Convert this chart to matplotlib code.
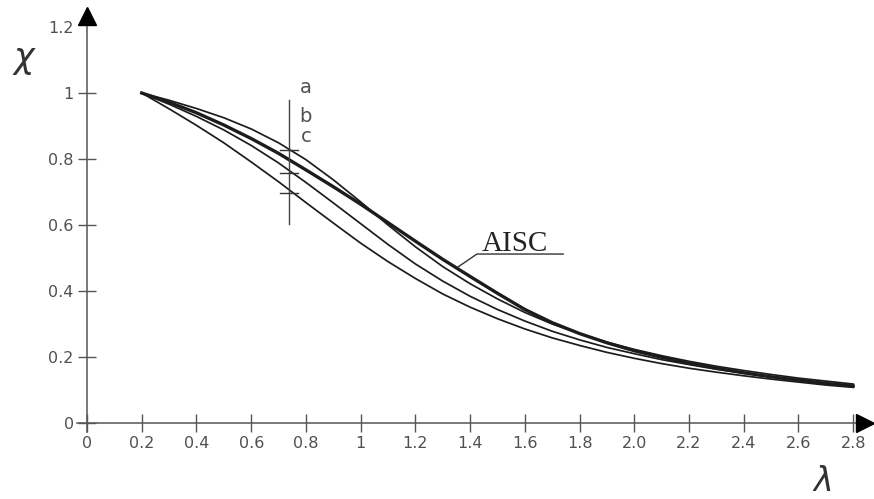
import numpy as np
import matplotlib.pyplot as plt

lam = [0.2, 0.3, 0.4, 0.5, 0.6, 0.7, 0.8, 0.9, 1.0, 1.1, 1.2, 1.3, 1.4, 1.5,
       1.6, 1.7, 1.8, 1.9, 2.0, 2.1, 2.2, 2.3, 2.4, 2.5, 2.6, 2.7, 2.8]

## buckling curves a, b, c and the AISC curve
chi_a = [1.000, 0.978, 0.953, 0.925, 0.891, 0.849, 0.798, 0.737, 0.670, 0.600,
         0.534, 0.474, 0.422, 0.376, 0.335, 0.300, 0.271, 0.245, 0.223, 0.204,
         0.187, 0.172, 0.159, 0.147, 0.136, 0.127, 0.118]
chi_b = [1.000, 0.966, 0.929, 0.888, 0.841, 0.788, 0.729, 0.667, 0.604, 0.541,
         0.482, 0.430, 0.384, 0.344, 0.309, 0.278, 0.252, 0.229, 0.210, 0.192,
         0.177, 0.163, 0.151, 0.140, 0.130, 0.121, 0.113]
chi_c = [1.000, 0.952, 0.902, 0.849, 0.791, 0.731, 0.668, 0.606, 0.545, 0.489,
         0.438, 0.391, 0.351, 0.316, 0.285, 0.258, 0.235, 0.214, 0.196, 0.180,
         0.166, 0.154, 0.143, 0.133, 0.124, 0.115, 0.108]
chi_aisc = [1.000, 0.972, 0.940, 0.903, 0.862, 0.817, 0.767, 0.716, 0.663, 0.607,
            0.551, 0.496, 0.444, 0.393, 0.344, 0.304, 0.271, 0.243, 0.219, 0.199,
            0.181, 0.166, 0.152, 0.140, 0.130, 0.120, 0.112]

## marker line with the curve labels
marker_lam = 0.738
marker_chi = [0.827, 0.758, 0.698]
curve_names = ["a", "b", "c"]

x_ticks = [0, 0.2, 0.4, 0.6, 0.8, 1.0, 1.2, 1.4, 1.6, 1.8, 2.0, 2.2, 2.4, 2.6, 2.8]
x_labels = ["0", "0.2", "0.4", "0.6", "0.8", "1", "1.2", "1.4", "1.6", "1.8",
            "2.0", "2.2", "2.4", "2.6", "2.8"]
y_ticks = [0, 0.2, 0.4, 0.6, 0.8, 1.0, 1.2]
y_labels = ["0", "0.2", "0.4", "0.6", "0.8", "1", "1.2"]

axis_col = "#555555"
line_col = "#1c1c1c"
text_col = "#505050"

fig = plt.figure(figsize=(8.74, 4.99), dpi=100)
ax = fig.add_axes([0, 0, 1, 1])
ax.set_xlim(-0.318, 2.876)
ax.set_ylim(-0.2303, 1.2818)

## axes through the origin with arrow heads
for s in ["top", "right"]:
    ax.spines[s].set_visible(False)
ax.spines["left"].set_position(("data", 0))
ax.spines["bottom"].set_position(("data", 0))
ax.spines["left"].set_bounds(-0.027, 1.233)
ax.spines["bottom"].set_bounds(-0.035, 2.844)
for s in ["left", "bottom"]:
    ax.spines[s].set_color(axis_col)
    ax.spines[s].set_linewidth(1.1)
ax.plot(0, 1.233, "^", color="black", ms=13, clip_on=False, zorder=6)
ax.plot(2.844, 0, ">", color="black", ms=13, clip_on=False, zorder=6)

ax.set_xticks(x_ticks)
ax.set_xticklabels(x_labels)
ax.set_yticks(y_ticks)
ax.set_yticklabels(y_labels)
ax.tick_params(direction="inout", length=13, width=1, color=axis_col,
               labelcolor=text_col, labelsize=11.5, pad=3)
## the 1.2 tick sits under the arrow head
ax.yaxis.get_major_ticks()[-1].tick1line.set_visible(False)

## curves
ax.plot(lam, chi_a, color=line_col, lw=1.25)
ax.plot(lam, chi_b, color=line_col, lw=1.25)
ax.plot(lam, chi_c, color=line_col, lw=1.25)
ax.plot(lam, chi_aisc, color=line_col, lw=2.4)

## vertical marker with small crossings and labels
ax.plot([marker_lam, marker_lam], [0.603, 0.979], color="#444444", lw=1.0)
for c in marker_chi:
    ax.plot([marker_lam - 0.033, marker_lam + 0.033], [c, c], color="#333333", lw=1.0)
label_y = [1.0, 0.912, 0.852]
for name, y in zip(curve_names, label_y):
    ax.text(0.80, y, name, ha="center", va="baseline", fontsize=14, color=text_col)

## AISC label with leader
ax.plot([1.356, 1.425, 1.740], [0.473, 0.512, 0.512], color="#333333", lw=1.0)
ax.text(1.444, 0.521, "AISC", ha="left", va="baseline", fontsize=21,
        family="Liberation Serif", color="#222222")

## axis names
ax.text(-0.227, 1.10, r"$\chi$", ha="center", va="center", fontsize=25, color="#333333")
ax.text(2.686, -0.176, r"$\lambda$", ha="center", va="center", fontsize=24, color="#333333")

plt.savefig("out.png", dpi=100)
plt.close("all")
